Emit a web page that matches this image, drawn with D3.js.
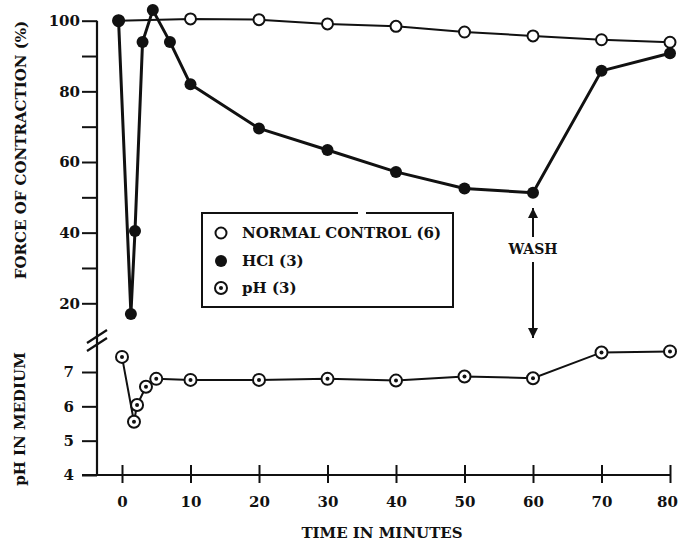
<!DOCTYPE html>
<html>
<head>
<meta charset="utf-8">
<script src="https://cdn.jsdelivr.net/npm/d3@7"></script>
<style>
    body { margin: 0; background: #fff; }
    text { font-family: "DejaVu Serif", serif; fill: #111; }
</style>
</head>
<body>
<svg id="chart"></svg>
<script>
// values
var controlTime = [-0.5, 10, 20, 30, 40, 50, 60, 70, 80];
var controlForce = [100, 100.5, 100.3, 99.1, 98.4, 96.8, 95.7, 94.6, 93.9];

var hclTime = [-0.5, 1.3, 1.9, 3, 4.5, 7, 10, 20, 30, 40, 50, 60, 70, 80];
var hclForce = [100, 17, 40.5, 94, 103, 94, 82, 69.5, 63.4, 57.2, 52.5, 51.3, 85.8, 90.8];

var phTime = [0, 1.75, 2.2, 3.5, 5, 10, 20, 30, 40, 50, 60, 70, 80];
var phValue = [7.44, 5.55, 6.04, 6.57, 6.8, 6.77, 6.77, 6.8, 6.75, 6.87, 6.82, 7.57, 7.6];

var timeTicks = [0, 10, 20, 30, 40, 50, 60, 70, 80];
var forceTicks = [20, 30, 40, 50, 60, 70, 80, 90, 100];
var phTicks = [4, 5, 6, 7];

var legendLabels = ["NORMAL CONTROL (6)", "HCl (3)", "pH (3)"];

var size = { width: 678, height: 543 };
var axisX = 97, axisBottom = 475;

var svg = d3.select("#chart")
    .attr("width", size.width)
    .attr("height", size.height);

var x = d3.scaleLinear().domain([0, 80]).range([122, 670]);
var yForce = d3.scaleLinear().domain([20, 100]).range([303.3, 20.7]);
var yPh = d3.scaleLinear().domain([4, 7]).range([475, 372]);

// axes
var leftTop = d3.axisLeft(yForce)
    .tickValues(forceTicks)
    .tickSize(15)
    .tickPadding(2)
    .tickFormat(d => d % 20 == 0 ? d : "");
var gf = svg.append("g")
    .attr("transform", "translate(" + axisX + ",0)")
    .call(leftTop);

var leftBottom = d3.axisLeft(yPh)
    .tickValues(phTicks)
    .tickSize(15)
    .tickPadding(8)
    .tickFormat(d => d);
var gp = svg.append("g")
    .attr("transform", "translate(" + axisX + ",0)")
    .call(leftBottom);

var bottom = d3.axisBottom(x)
    .tickValues(timeTicks)
    .tickSize(8)
    .tickPadding(13);
var gx = svg.append("g")
    .attr("transform", "translate(0," + axisBottom + ")")
    .call(bottom);
gx.selectAll(".tick line").attr("y1", -10);

[gf, gp, gx].forEach(function(g) {
    g.select(".domain").remove();
    g.selectAll(".tick line").attr("stroke", "#111").attr("stroke-width", 2);
    g.selectAll(".tick text")
        .style("font-size", "15px")
        .style("font-weight", "bold")
        .attr("fill", "#111");
});
// last time label sits against the right edge
gx.selectAll(".tick text").filter(d => d == 80).attr("dx", -3);

// axis lines
svg.append("line")
    .attr("x1", axisX).attr("x2", axisX)
    .attr("y1", yForce(100)).attr("y2", axisBottom + 1)
    .attr("stroke", "#111").attr("stroke-width", 2.2);
svg.append("line")
    .attr("x1", axisX - 15).attr("x2", x(80) + 1)
    .attr("y1", axisBottom).attr("y2", axisBottom)
    .attr("stroke", "#111").attr("stroke-width", 2.2);

// break marks
[0, 8].forEach(function(off) {
    svg.append("line")
        .attr("x1", axisX - 10).attr("y1", 343 + off)
        .attr("x2", axisX + 10).attr("y2", 330 + off)
        .attr("stroke", "#111").attr("stroke-width", 2.2);
});

// axis titles
svg.append("text")
    .attr("transform", "translate(21,150) rotate(-90)")
    .attr("text-anchor", "middle")
    .attr("dominant-baseline", "central")
    .style("font-size", "15px")
    .style("font-weight", "bold")
    .text("FORCE OF CONTRACTION (%)");
svg.append("text")
    .attr("transform", "translate(20,419) rotate(-90)")
    .attr("text-anchor", "middle")
    .attr("dominant-baseline", "central")
    .style("font-size", "15px")
    .style("font-weight", "bold")
    .text("pH IN MEDIUM");
svg.append("text")
    .attr("x", 382).attr("y", 538)
    .attr("text-anchor", "middle")
    .style("font-size", "15px")
    .style("font-weight", "bold")
    .text("TIME IN MINUTES");

// series lines
var controlLine = d3.line().x((d, i) => x(controlTime[i])).y(d => yForce(d));
var hclLine = d3.line().x((d, i) => x(hclTime[i])).y(d => yForce(d));
var phLine = d3.line().x((d, i) => x(phTime[i])).y(d => yPh(d));

svg.append("path").datum(controlForce)
    .attr("d", controlLine)
    .attr("fill", "none").attr("stroke", "#111").attr("stroke-width", 2);
svg.append("path").datum(phValue)
    .attr("d", phLine)
    .attr("fill", "none").attr("stroke", "#111").attr("stroke-width", 2);
svg.append("path").datum(hclForce)
    .attr("d", hclLine)
    .attr("fill", "none").attr("stroke", "#111").attr("stroke-width", 3)
    .attr("stroke-linejoin", "round");

// markers
function openMark(g, cx, cy) {
    g.append("circle").attr("cx", cx).attr("cy", cy).attr("r", 5.5)
        .attr("fill", "#fff").attr("stroke", "#111").attr("stroke-width", 2);
}
function filledMark(g, cx, cy) {
    g.append("circle").attr("cx", cx).attr("cy", cy).attr("r", 6)
        .attr("fill", "#111");
}
function phMark(g, cx, cy) {
    g.append("circle").attr("cx", cx).attr("cy", cy).attr("r", 6)
        .attr("fill", "#fff").attr("stroke", "#111").attr("stroke-width", 2);
    g.append("circle").attr("cx", cx).attr("cy", cy).attr("r", 2)
        .attr("fill", "#111");
}

controlForce.forEach((d, i) => openMark(svg, x(controlTime[i]), yForce(d)));
hclForce.forEach((d, i) => filledMark(svg, x(hclTime[i]), yForce(d)));
phValue.forEach((d, i) => phMark(svg, x(phTime[i]), yPh(d)));

// legend box (top border has a small break in the original)
var lg = { left: 202, top: 213, right: 453, bottom: 307 };
svg.append("path")
    .attr("d", "M358," + lg.top + "H" + lg.left + "V" + lg.bottom + "H" + lg.right +
        "V" + lg.top + "H366")
    .attr("fill", "none").attr("stroke", "#111").attr("stroke-width", 2);

var legendY = [233, 261, 288];
openMark(svg, 221, legendY[0]);
filledMark(svg, 221, legendY[1]);
phMark(svg, 221, legendY[2]);
svg.selectAll(".legend-text")
    .data(legendLabels)
    .enter()
    .append("text")
    .attr("class", "legend-text")
    .attr("x", 242)
    .attr("y", (d, i) => legendY[i])
    .attr("dominant-baseline", "central")
    .style("font-size", "15px")
    .style("font-weight", "bold")
    .text(d => d);

// wash arrows
var wx = x(60);
svg.append("defs").append("marker")
    .attr("id", "head")
    .attr("viewBox", "0 0 10 10")
    .attr("refX", 10).attr("refY", 5)
    .attr("markerWidth", 10).attr("markerHeight", 12)
    .attr("markerUnits", "userSpaceOnUse")
    .attr("orient", "auto")
    .append("path")
    .attr("d", "M0,0L10,5L0,10Z")
    .attr("fill", "#111");
svg.append("line")
    .attr("x1", wx).attr("x2", wx)
    .attr("y1", 237).attr("y2", 208)
    .attr("stroke", "#111").attr("stroke-width", 2)
    .attr("marker-end", "url(#head)");
svg.append("line")
    .attr("x1", wx).attr("x2", wx)
    .attr("y1", 262).attr("y2", 338)
    .attr("stroke", "#111").attr("stroke-width", 2)
    .attr("marker-end", "url(#head)");
svg.append("text")
    .attr("x", wx).attr("y", 249)
    .attr("text-anchor", "middle")
    .attr("dominant-baseline", "central")
    .style("font-size", "14px")
    .style("font-weight", "bold")
    .text("WASH");
</script>
</body>
</html>
